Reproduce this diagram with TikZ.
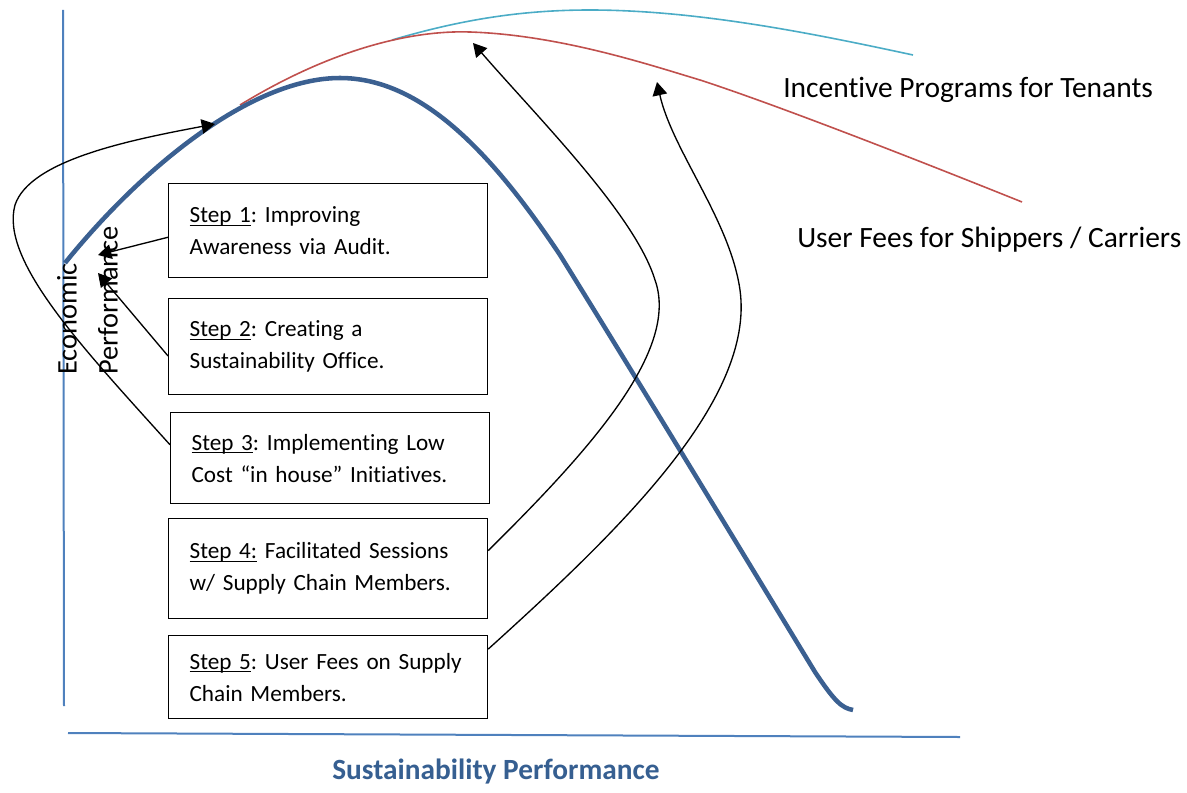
\documentclass[tikz,border=0pt]{standalone}
\usepackage{fontspec}
\setmainfont{Carlito}[Ligatures=NoCommon]
\usetikzlibrary{arrows.meta}
\definecolor{axisblue}{HTML}{4F81BD}
\definecolor{curveblue}{HTML}{3B6091}
\definecolor{curvered}{HTML}{C0504D}
\definecolor{curvecyan}{HTML}{4BACC6}
\definecolor{titleblue}{HTML}{365F91}
\newcommand{\stepul}[1]{\setbox0=\hbox{#1}\rlap{\rule[-2.4pt]{\wd0}{0.75pt}}\box0\relax}
\frenchspacing
\begin{document}
\begin{tikzpicture}[x=0.75pt, y=-0.75pt,
        stepbox/.style={draw, line width=0.9pt, anchor=north west, text width=207.75pt,
            inner xsep=15.75pt, align=left, font=\fontsize{17.4}{24}\selectfont},
        link/.style={line width=1pt, -{Triangle[length=10pt,width=11pt]}},
        curvetext/.style={anchor=base west, inner sep=0pt, font=\fontsize{22.1}{26}\selectfont}]
        \useasboundingbox (0,0) rectangle (1187,792);

        % Axes
        \draw[axisblue, line width=1.5pt] (63,10) -- (64,706);
        \draw[axisblue, line width=1.5pt] (68,733) -- (960,737);
        \node[curvetext, font=\bfseries\fontsize{22}{26}\selectfont, text=titleblue]
            (xlabel) at (332,779) {Sustainability Performance};
        \node[rotate=90, anchor=south west, inner sep=0pt, align=left,
            font=\fontsize{21.3}{30.75}\selectfont] (ylabel) at (118,375) {Economic\\Performance};

        % Performance curves
        \draw[curvecyan, line width=1.2pt] (392,40) .. controls (460,20) and (520,10) .. (590,10)
            .. controls (700,10) and (820,35) .. (913,55);
        \draw[curvered, line width=1.2pt] (240,105) .. controls (330,50) and (410,30) .. (470,32)
            .. controls (560,35) and (650,65) .. (700,80)
            .. controls (780,106) and (930,165) .. (1022,202);
        \draw[curveblue, line width=3.4pt] (65,263) .. controls (140,170) and (250,78) .. (340,78)
            .. controls (420,78) and (490,150) .. (560,255)
            .. controls (650,400) and (765,590) .. (815,672)
            .. controls (835,702) and (842,708) .. (853,710);

        \node[curvetext] (incentive) at (783,97) {Incentive Programs for Tenants};
        \node[curvetext] (userfees) at (797,247) {User Fees for Shippers / Carriers};

        % Steps
        \foreach \n/\x/\y/\h/\txt in {
            1/168/183/94/{\stepul{Step 1}: Improving\\Awareness via Audit.},
            2/168/298/96/{\stepul{Step 2}: Creating a\\Sustainability Office.},
            3/170/412/91/{\stepul{Step 3}: Implementing Low\\Cost “in house” Initiatives.},
            4/168/518/100/{\stepul{Step 4:} Facilitated Sessions\\w/ Supply Chain Members.},
            5/168/635/83/{\stepul{Step 5}: User Fees on Supply\\Chain Members.}
        } {
            \node[stepbox, minimum height=\h*0.75pt] (step\n) at (\x,\y) {\txt};
        }

        % Arrow ends
        \coordinate (tip1) at (98,255);
        \coordinate (tip2) at (98,273);
        \coordinate (tip3) at (215,124);
        \coordinate (tip4) at (473,43);
        \coordinate (tip5) at (657,82);

        \draw[link] ([yshift=-5pt]step1.west) -- (tip1);
        \draw[link] ([yshift=-7pt]step2.west) -- (tip2);
        \draw[link] ([yshift=10pt]step3.west) .. controls (80,345) and (0,260) .. (15,205)
            .. controls (30,160) and (130,140) .. (tip3);
        \draw[link] ([yshift=13.5pt]step4.east) .. controls (590,450) and (680,350) .. (655,280)
            .. controls (635,215) and (540,120) .. (tip4);
        \draw[link] ([yshift=21pt]step5.east) .. controls (620,530) and (755,400) .. (740,290)
            .. controls (730,220) and (672,150) .. (tip5);
    \end{tikzpicture}
\end{document}
